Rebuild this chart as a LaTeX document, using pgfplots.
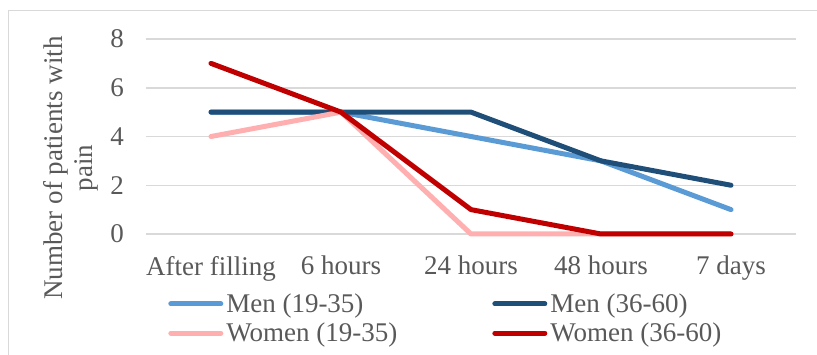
\documentclass[border=0pt]{standalone}
\usepackage{pgfplots}
\pgfplotsset{compat=1.18}
\usepackage{fontspec}
\setmainfont{Liberation Serif}

\definecolor{txtgray}{HTML}{595959}
\definecolor{gridgray}{HTML}{D9D9D9}
\definecolor{menA}{HTML}{5B9BD5}
\definecolor{menB}{HTML}{1F4E79}
\definecolor{womA}{HTML}{FFAFAF}
\definecolor{womB}{HTML}{C00000}

\newcommand{\chartfont}{\fontsize{27}{30}\selectfont}

\begin{document}
\begin{tikzpicture}
\useasboundingbox (0pt,0pt) rectangle (817pt,-355pt);
% chart area frame
\draw[gridgray, line width=1pt] (8pt,-400pt) -- (8pt,-11pt) -- (900pt,-11pt);

\begin{axis}[
  at={(146pt,-234pt)}, anchor=south west,
  scale only axis, width=650pt, height=195pt,
  xmin=-0.5, xmax=4.5, ymin=0, ymax=8,
  xtick={0,1,2,3,4},
  xticklabels={After filling, 6 hours, 24 hours, 48 hours, 7 days},
  ytick={0,2,4,6,8},
  yticklabels={0,2,4,6,8},
  axis line style={draw=none},
  major tick length=0pt,
  ymajorgrids, grid style={gridgray, line width=1.5pt},
  tick label style={font=\chartfont, text=txtgray, inner sep=0pt},
  yticklabel style={anchor=east, xshift=-22pt},
  xticklabel style={anchor=north, yshift=-22pt},
  clip=false,
  legend columns=2,
  legend cell align=left,
  legend style={draw=none, fill=none, font=\chartfont, text=txtgray,
    at={(rel axis cs:0.034,-0.29)}, anchor=north west,
    inner sep=0pt, row sep=3pt,
    nodes={inner sep=3pt},
    /tikz/every even column/.append style={column sep=92pt}},
  legend image code/.code={\draw[#1, line width=5pt, line cap=round] (2.5pt,0pt) -- (52.5pt,0pt);},
  every axis plot/.append style={line width=5pt, line join=round, line cap=round},
]
\addplot[menA] coordinates {(0,5) (1,5) (2,4) (3,3) (4,1)};
\addlegendentry{Men (19-35)}
\addplot[menB] coordinates {(0,5) (1,5) (2,5) (3,3) (4,2)};
\addlegendentry{Men (36-60)}
\addplot[womA] coordinates {(0,4) (1,5) (2,0) (3,0) (4,0)};
\addlegendentry{Women (19-35)}
\addplot[womB] coordinates {(0,7) (1,5) (2,1) (3,0) (4,0)};
\addlegendentry{Women (36-60)}
\end{axis}

\node[rotate=90, align=center, font=\chartfont, text=txtgray, inner sep=0pt]
  at (71pt,-168pt) {Number of patients with\\pain};
\end{tikzpicture}
\end{document}
